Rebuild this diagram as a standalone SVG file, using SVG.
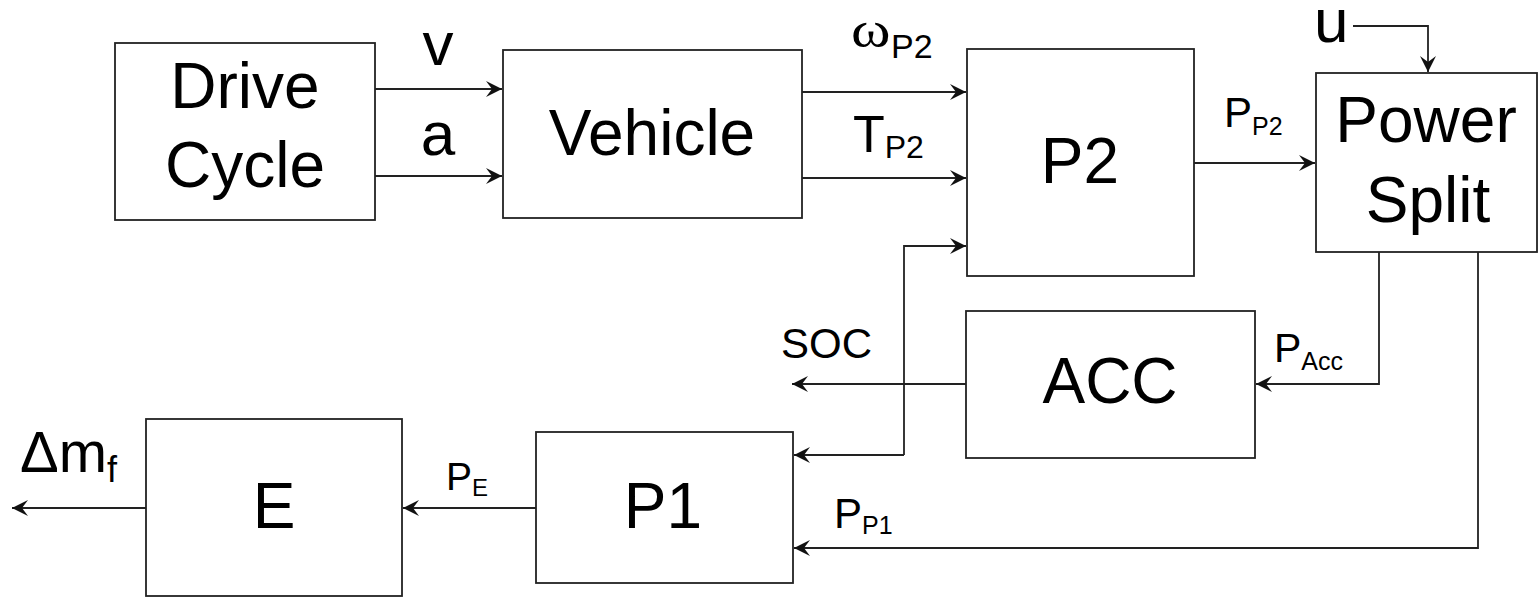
<svg xmlns="http://www.w3.org/2000/svg" width="1539" height="597" viewBox="0 0 1539 597">
<style>
.box{fill:#fff;stroke:#222;stroke-width:1.8}
.lbl{font-family:"Liberation Sans",Arial,sans-serif;fill:#000}
.node{font-family:"Liberation Sans",Arial,sans-serif;font-size:64px;fill:#000;text-anchor:middle}
.ln{fill:none;stroke:#222;stroke-width:1.8}
</style>
<defs>
<marker id="ah" markerUnits="userSpaceOnUse" markerWidth="20" markerHeight="18" refX="0" refY="0" viewBox="-17 -9 19 18" orient="auto">
<path d="M0,0 L-16,-8 L-10,0 L-16,8 Z" fill="#111"/>
</marker>
</defs>
<rect width="1539" height="597" fill="#fff"/>
<g id="connectors">
<path class="ln" d="M375,89 H502" marker-end="url(#ah)"/>
<path class="ln" d="M375,176 H502" marker-end="url(#ah)"/>
<path class="ln" d="M802,92 H966" marker-end="url(#ah)"/>
<path class="ln" d="M802,178 H966" marker-end="url(#ah)"/>
<path class="ln" d="M1194,163 H1315" marker-end="url(#ah)"/>
<path class="ln" d="M1353,26 H1428 V72" marker-end="url(#ah)"/>
<path class="ln" d="M1379,252 V384 H1256" marker-end="url(#ah)"/>
<path class="ln" d="M1478,252 V548 H794" marker-end="url(#ah)"/>
<path class="ln" d="M966,384 H792" marker-end="url(#ah)"/>
<path class="ln" d="M904,455 V246 H966" marker-end="url(#ah)"/>
<path class="ln" d="M904,455 H794" marker-end="url(#ah)"/>
<path class="ln" d="M536,508 H403" marker-end="url(#ah)"/>
<path class="ln" d="M146,508 H12" marker-end="url(#ah)"/>
</g>
<g id="drive-cycle">
<rect class="box" x="115" y="43" width="260" height="177"/>
<text class="node" x="245" y="108">Drive</text>
<text class="node" x="245" y="187">Cycle</text>
</g>
<g id="vehicle">
<rect class="box" x="503" y="50" width="299" height="168"/>
<text class="node" x="652" y="155">Vehicle</text>
</g>
<g id="p2">
<rect class="box" x="967" y="49" width="227" height="227"/>
<text class="node" x="1080" y="183">P2</text>
</g>
<g id="power-split">
<rect class="box" x="1316" y="73" width="221" height="179"/>
<text class="node" x="1426" y="142">Power</text>
<text class="node" x="1428" y="222">Split</text>
</g>
<g id="acc">
<rect class="box" x="966" y="311" width="289" height="147"/>
<text class="node" x="1110" y="403">ACC</text>
</g>
<g id="p1">
<rect class="box" x="536" y="432" width="257" height="151"/>
<text class="node" x="663" y="528">P1</text>
</g>
<g id="e">
<rect class="box" x="146" y="419" width="256" height="177"/>
<text class="node" x="274" y="528">E</text>
</g>
<g id="labels">
<text class="lbl" x="438" y="65" font-size="62" text-anchor="middle">v</text>
<text class="lbl" x="438" y="155" font-size="62" text-anchor="middle">a</text>
<text class="lbl" x="1314" y="42" font-size="62">u</text>
<text x="851" y="47" font-family="Liberation Serif,serif" font-size="50" fill="#000" transform="translate(851 47) scale(1.2 1) translate(-851 -47)">ω</text>
<text class="lbl" x="891" y="58" font-size="34">P2</text>
<text class="lbl" x="853" y="152" font-size="52">T<tspan font-size="32" dy="6">P2</tspan></text>
<text class="lbl" x="1224" y="127" font-size="42">P<tspan font-size="25" dy="8">P2</tspan></text>
<text class="lbl" x="1274" y="362" font-size="41">P<tspan font-size="25" dy="8">Acc</tspan></text>
<text class="lbl" x="781" y="358" font-size="42">SOC</text>
<text class="lbl" x="834" y="528" font-size="42">P<tspan font-size="25" dy="6">P1</tspan></text>
<text class="lbl" x="446" y="490" font-size="39">P<tspan font-size="24" dy="6">E</tspan></text>
<text class="lbl" x="20" y="472" font-size="58">Δm<tspan font-size="36" dy="10">f</tspan></text>
</g>
</svg>
